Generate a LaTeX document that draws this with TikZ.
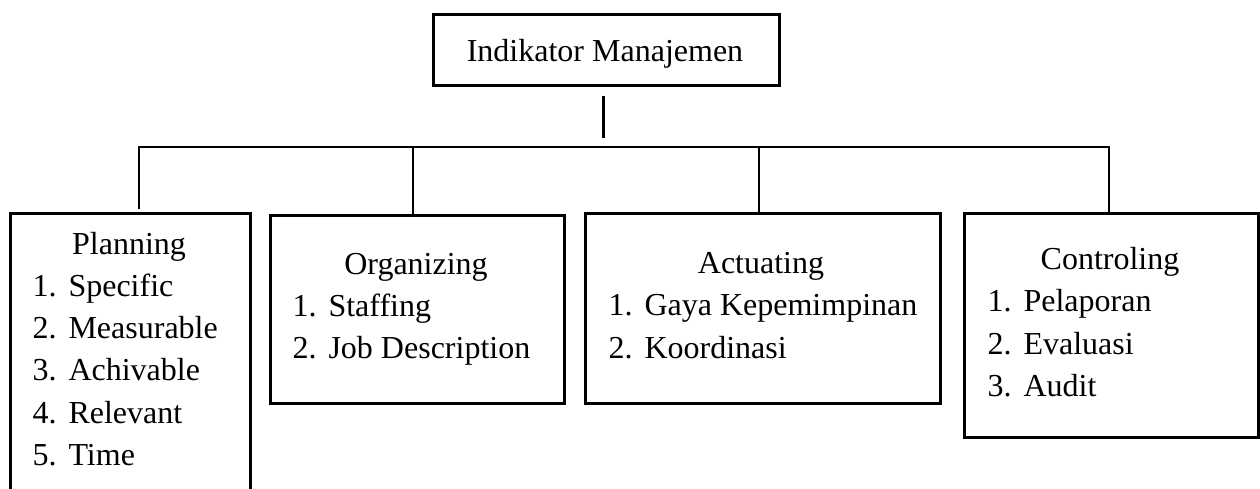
\documentclass[tikz,border=0pt]{standalone}
\usepackage{fontspec}
\setmainfont{Liberation Serif}
\tikzset{
  box/.style={draw, line width=1pt, rectangle, anchor=north west, inner sep=0pt},
  title/.style={anchor=base, inner sep=0pt},
  entry/.style={anchor=base west, inner sep=0pt},
  link/.style={line width=0.9pt}
}
\newcommand{\numitem}[2]{\makebox[13.5pt][l]{#1.}#2}

\begin{document}
\begin{tikzpicture}[x=0.375pt,y=-0.375pt,font=\fontsize{12pt}{14pt}\selectfont]
\useasboundingbox (0,0) rectangle (1260,488);
\clip (0,0) rectangle (1260,488);
% boxes
\node[box, minimum width=129.75pt, minimum height=26.625pt] (top) at (432,13) {};
\node[box, minimum width=90pt, minimum height=115.5pt] (plan) at (9,212) {};
\node[box, minimum width=110.25pt, minimum height=70.5pt] (org) at (269,214) {};
\node[box, minimum width=133.125pt, minimum height=71.25pt] (act) at (584,212) {};
\node[box, minimum width=110.25pt, minimum height=84pt] (ctrl) at (963,212) {};
% titles
\node[title] (topT) at (605,61) {Indikator Manajemen};
\node[title] (planT) at (129,254) {Planning};
\node[title] (orgT) at (416,274) {Organizing};
\node[title] (actT) at (761,273) {Actuating};
\node[title] (ctrlT) at (1110,269) {Controling};
% lists
\foreach \t [count=\i] in {Specific,Measurable,Achivable,Relevant,Time}
  \node[entry] (plan\i) at (32,254+42.3*\i) {\numitem{\i}{\t}};
\foreach \t [count=\i] in {Staffing,Job Description}
  \node[entry] (org\i) at (292,274+42*\i) {\numitem{\i}{\t}};
\foreach \t [count=\i] in {Gaya Kepemimpinan,Koordinasi}
  \node[entry] (act\i) at (608,273+42.5*\i) {\numitem{\i}{\t}};
\foreach \t [count=\i] in {Pelaporan,Evaluasi,Audit}
  \node[entry] (ctrl\i) at (987,269+42.5*\i) {\numitem{\i}{\t}};
% connectors
\coordinate (busP) at (139,147);
\coordinate (busO) at (413,147);
\coordinate (busA) at (759,147);
\coordinate (busC) at (1109,147);
\draw[link, shorten <=3.4pt, shorten >=3.4pt] ([xshift=-1.1pt]top.south) -- ([xshift=-1.1pt]top.south |- busP);
\draw[link, shorten <=1.1pt] (busP |- plan.north) -- (busP) -- (busC) -- (busC |- ctrl.north);
\draw[link] (busO) -- (busO |- org.north);
\draw[link] (busA) -- (busA |- act.north);
\end{tikzpicture}
\end{document}
